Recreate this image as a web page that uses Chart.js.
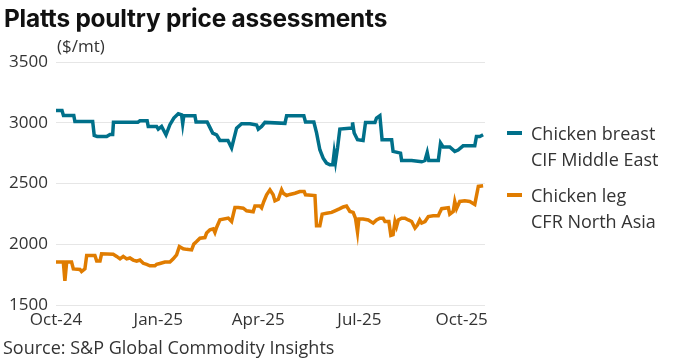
<!DOCTYPE html>
<html>
<head>
<meta charset="utf-8">
<script src="https://cdn.jsdelivr.net/npm/chart.js@4.4.1/dist/chart.umd.min.js"></script>
<style>
  body { margin: 0; background: #fff; }
  #wrap { position: relative; width: 675px; height: 361px; font-family: "Open Sans", Roboto, sans-serif; color: #333; }
  #myChart { position: absolute; left: 0; top: 0; }
  .title { position: absolute; left: 4px; top: 3px; font-family: Inter, Roboto, sans-serif; font-weight: 700; font-size: 24.4px; color: #111; letter-spacing: -0.2px; }
  .unit { position: absolute; left: 57px; top: 34px; font-size: 17px; }
  .source { position: absolute; left: 3px; top: 335px; font-size: 18px; }
  .legend { position: absolute; left: 507px; font-size: 18px; line-height: 26px; }
  .legend .swatch { position: absolute; left: 0; top: 11px; width: 15px; height: 4px; }
  .legend .txt { margin-left: 24px; }
</style>
</head>
<body>
<div id="wrap">
  <canvas id="myChart" width="675" height="361"></canvas>
  <div class="title">Platts poultry price assessments</div>
  <div class="unit">($/mt)</div>
  <div class="legend" style="top:120px"><div class="swatch" style="background:#00708a"></div><div class="txt">Chicken breast<br>CIF Middle East</div></div>
  <div class="legend" style="top:182px"><div class="swatch" style="background:#e07c00"></div><div class="txt">Chicken leg<br>CFR North Asia</div></div>
  <div class="source">Source: S&amp;P Global Commodity Insights</div>
</div>
<script>
// days counted from 1 Oct 2024
const tickDays = [0, 92, 182, 273, 365];
const tickLabels = ["Oct-24", "Jan-25", "Apr-25", "Jul-25", "Oct-25"];

const breastDays = [0, 5.4, 6.7, 16, 17, 33, 34.4, 37, 45.6, 48.6, 51, 51.7, 73.7, 75.5, 82, 83, 90.5, 92, 95, 99,
  102.5, 106, 110, 113, 114, 115, 125, 126, 136, 138, 141, 144.5, 147.5, 154.7, 158, 162.5, 167, 174.5, 180.5, 182,
  185, 188, 206, 207.5, 223, 224.5, 232, 234.5, 237.4, 240.4, 243.4, 246.4, 249, 250.3, 251.5, 253.3, 255.4, 266.5,
  266.8, 268.3, 271.3, 276.3, 278.5, 287, 288.4, 291.4, 293.4, 302, 303.3, 310, 311, 320, 329, 332, 334, 335.4, 344,
  346, 348.3, 354.3, 358.8, 361.8, 366.3, 376.8, 378.3, 381.3, 384.3];
const breastPrices = [3100, 3100, 3060, 3060, 3010, 3010, 2895, 2887, 2887, 2904, 2904, 3005, 3005, 3016, 3016, 2970,
  2970, 2948, 2970, 2901, 2984, 3039, 3074, 3065, 2992, 3058, 3058, 3006, 3006, 2970, 2915, 2901, 2854, 2854, 2792,
  2956, 2992, 2992, 2982, 2948, 2970, 3003, 2995, 3058, 3058, 3006, 3006, 2915, 2778, 2709, 2668, 2654, 2654, 2755,
  2680, 2792, 2948, 2956, 3003, 2915, 2860, 2854, 3003, 3003, 3039, 3058, 2860, 2860, 2764, 2750, 2690, 2690, 2679,
  2690, 2755, 2690, 2690, 2833, 2800, 2800, 2764, 2775, 2810, 2810, 2887, 2887, 2901];

const legDays = [0, 6.6, 8, 9.6, 14, 15.6, 21.6, 23, 26, 27.6, 35, 36.6, 39.6, 41, 51.5, 54.6, 57.6, 60.5, 63.6, 66.5,
  69.5, 72.6, 75.5, 78.5, 81.6, 84.5, 89, 90.5, 93.5, 98, 102.5, 105.5, 108.5, 111, 114.5, 117.5, 122, 124, 126.5,
  129.5, 134, 135.5, 138.5, 141.5, 143, 144.5, 147.5, 155, 158, 161, 164, 168.5, 171.5, 177.4, 179, 183.5, 185, 187,
  189.5, 192.5, 195.4, 197, 200, 203, 204.5, 207.5, 210.4, 215, 219.4, 223.3, 224.5, 233, 234.4, 237.4, 239.5, 243.4,
  248, 251, 255.4, 258.4, 261.4, 264.4, 267.4, 269.5, 271.3, 272.5, 276.3, 281, 285.4, 288.4, 291.4, 294.3, 296,
  299.5, 301.3, 303.3, 305, 306.4, 308, 311, 314, 317, 320, 323, 325.3, 327.3, 329, 332, 335, 339.4, 344, 345.3, 347,
  353, 354.3, 357.4, 358.8, 360.4, 363.3, 367.8, 372.3, 376.8, 380, 384.3];
const legPrices = [1853, 1853, 1699, 1853, 1853, 1797, 1792, 1775, 1797, 1907, 1907, 1863, 1863, 1921, 1918, 1900,
  1880, 1900, 1880, 1887, 1870, 1860, 1870, 1843, 1834, 1823, 1823, 1834, 1842, 1853, 1853, 1880, 1913, 1981, 1963,
  1958, 1953, 2001, 2022, 2050, 2055, 2092, 2119, 2127, 2097, 2138, 2201, 2215, 2187, 2302, 2302, 2297, 2275, 2267,
  2315, 2315, 2300, 2352, 2407, 2448, 2407, 2357, 2370, 2448, 2420, 2401, 2410, 2420, 2434, 2434, 2407, 2401, 2152,
  2152, 2248, 2255, 2262, 2275, 2293, 2307, 2315, 2270, 2262, 2212, 2100, 2207, 2207, 2200, 2174, 2200, 2215, 2215,
  2187, 2187, 2072, 2078, 2187, 2146, 2200, 2215, 2215, 2200, 2187, 2133, 2160, 2200, 2174, 2187, 2228, 2235, 2235,
  2262, 2293, 2300, 2248, 2270, 2352, 2293, 2352, 2357, 2352, 2328, 2476, 2481];

function toPoints(days, values) {
  return days.map((d, i) => ({ x: d, y: values[i] }));
}

window.addEventListener("load", function () {
  const ctx = document.getElementById("myChart").getContext("2d");

  new Chart(ctx, {
    type: "line",
    data: {
      datasets: [
        {
          label: "Chicken breast CIF Middle East",
          data: toPoints(breastDays, breastPrices),
          borderColor: "#00708a",
          borderWidth: 3.5,
          pointRadius: 0,
          tension: 0,
        },
        {
          label: "Chicken leg CFR North Asia",
          data: toPoints(legDays, legPrices),
          borderColor: "#e07c00",
          borderWidth: 3.5,
          pointRadius: 0,
          tension: 0,
        },
      ],
    },
    options: {
      responsive: false,
      animation: false,
      layout: {
        padding: { left: 0, right: 190, top: 62, bottom: 0 },
      },
      scales: {
        x: {
          type: "linear",
          min: 0,
          max: 386,
          afterBuildTicks: function (scale) {
            scale.ticks = tickDays.map((v) => ({ value: v }));
          },
          afterFit: function (scale) {
            scale.height = 56;
          },
          grid: { display: false, drawTicks: false },
          border: { display: false },
          ticks: {
            autoSkip: false,
            maxRotation: 0,
            padding: 5,
            color: "#333",
            font: { family: "Open Sans", size: 17 },
            callback: function (value) {
              const i = tickDays.indexOf(value);
              return i >= 0 ? tickLabels[i] : "";
            },
          },
        },
        y: {
          min: 1500,
          max: 3500,
          afterFit: function (scale) {
            scale.width = 56;
          },
          grid: { color: "#e6e6e6", lineWidth: 1, drawTicks: false },
          border: { display: false },
          ticks: {
            stepSize: 500,
            padding: 8,
            color: "#333",
            font: { family: "Open Sans", size: 17 },
            callback: function (value) {
              return String(value);
            },
          },
        },
      },
      plugins: {
        legend: { display: false },
        tooltip: { enabled: false },
      },
    },
  });
});
</script>
</body>
</html>
